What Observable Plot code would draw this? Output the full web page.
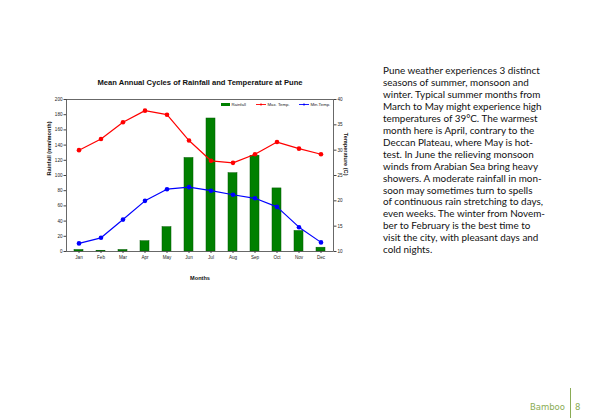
<!DOCTYPE html>
<html>
<head>
<meta charset="utf-8">
<script src="https://cdn.jsdelivr.net/npm/d3@7"></script>
<script src="https://cdn.jsdelivr.net/npm/@observablehq/plot@0.6"></script>
<style>
  html, body { margin: 0; padding: 0; background: #fff; }
  #wrap { position: relative; width: 600px; height: 420px; overflow: hidden; }
  #chart { position: absolute; left: 0; top: 0; }
  #para { position: absolute; left: 383px; top: 65px; font-family: Lato, "Open Sans", sans-serif; font-size: 9.9px; line-height: 11.95px; color: #111; white-space: nowrap; }
  #legend { position: absolute; top: 102px; left: 0; width: 600px; height: 8px; font-family: "Liberation Sans", Arial, sans-serif; font-size: 4.3px; color: #222; white-space: nowrap; }
  #legend .item { position: absolute; top: 0; display: flex; align-items: center; }
  #legend svg { margin-right: 1.5px; }
  #footer { position: absolute; left: 0; top: 388px; width: 600px; height: 30px; font-family: Verdana, "DejaVu Sans", sans-serif; color: #8aac55; font-size: 8.5px; }
</style>
</head>
<body>
<div id="wrap">
  <div id="chart"></div>
  <div id="legend"></div>
  <div id="para"></div>
  <div id="footer"></div>
</div>
<script>
// ---- Data ----
const months = ["Jan","Feb","Mar","Apr","May","Jun","Jul","Aug","Sep","Oct","Nov","Dec"];
const rainfall = [2, 1, 2, 13.5, 32, 123, 175, 103, 126, 83, 27, 5];
const maxTemp = [30.0, 32.2, 35.5, 37.8, 37.0, 31.9, 27.9, 27.5, 29.2, 31.6, 30.3, 29.2];
const minTemp = [11.6, 12.7, 16.3, 20.0, 22.3, 22.7, 22.0, 21.2, 20.5, 18.8, 14.8, 11.8];
const rainTicks = [0, 20, 40, 60, 80, 100, 120, 140, 160, 180, 200];
const tempTicks = [10, 15, 20, 25, 30, 35, 40];
const titleText = "Mean Annual Cycles of Rainfall and Temperature at Pune";
const yLabelLeft = "Rainfall (mm/month)";
const yLabelRight = "Temperature (C)";
const xLabel = "Months";
const legendLabels = ["Rainfall", "Max. Temp.", "Min.Temp."];
const legendKinds = ["bar", "line", "line"];
const legendColors = ["#008000", "#ff0000", "#0000ff"];
const paragraphLines = [
  "Pune weather experiences 3 distinct",
  "seasons of summer, monsoon and",
  "winter. Typical summer months from",
  "March to May might experience high",
  "temperatures of 39°C. The warmest",
  "month here is April, contrary to the",
  "Deccan Plateau, where May is hot-",
  "test. In June the relieving monsoon",
  "winds from Arabian Sea bring heavy",
  "showers. A moderate rainfall in mon-",
  "soon may sometimes turn to spells",
  "of continuous rain stretching to days,",
  "even weeks. The winter from Novem-",
  "ber to February is the best time to",
  "visit the city, with pleasant days and",
  "cold nights."
];
const footerName = "Bamboo";
const pageNumber = "8";

// temperature (10..40) mapped onto rainfall axis (0..200)
const tMin = 10, tMax = 40, rMax = 200;
const t2r = t => (t - tMin) * rMax / (tMax - tMin);
const r2t = r => tMin + r * (tMax - tMin) / rMax;

const rainData = months.map((m, i) => ({month: m, value: rainfall[i]}));
const maxData = months.map((m, i) => ({month: m, value: t2r(maxTemp[i])}));
const minData = months.map((m, i) => ({month: m, value: t2r(minTemp[i])}));

const plot = Plot.plot({
  width: 600,
  height: 420,
  marginLeft: 66,
  marginRight: 267,
  marginTop: 99,
  marginBottom: 169,
  style: {fontFamily: "'Liberation Sans', Arial, sans-serif", fontSize: "4.6px", color: "#222", background: "white"},
  x: {type: "band", domain: months, paddingInner: 0.57, paddingOuter: 0.285, label: null},
  y: {domain: [0, rMax], label: null},
  marks: [
    Plot.barY(rainData, {x: "month", y: "value", fill: "#008000", stroke: "#005a00", strokeWidth: 0.5}),
    Plot.line(maxData, {x: "month", y: "value", stroke: "#ff0000", strokeWidth: 1.2}),
    Plot.dot(maxData, {x: "month", y: "value", fill: "#ff0000", r: 2.3}),
    Plot.line(minData, {x: "month", y: "value", stroke: "#0000ff", strokeWidth: 1.2}),
    Plot.dot(minData, {x: "month", y: "value", fill: "#0000ff", r: 2.3}),
    Plot.frame({stroke: "#444", strokeWidth: 0.8}),
    Plot.axisY({anchor: "left", ticks: rainTicks, tickSize: 2.5, tickPadding: 1.5, label: null, stroke: "#444"}),
    Plot.axisY({anchor: "right", ticks: tempTicks.map(t2r), tickFormat: r => String(Math.round(r2t(r))), tickSize: 2.5, tickPadding: 1.5, label: null, stroke: "#444"}),
    Plot.axisX({anchor: "bottom", tickSize: 2, tickPadding: 2.5, label: null, stroke: "#444"}),
    Plot.text([titleText], {frameAnchor: "top", dy: -20, text: d => d, fontSize: 7.6, fontWeight: "bold", fill: "#111"}),
    Plot.text([yLabelLeft], {frameAnchor: "left", dx: -17, rotate: -90, text: d => d, fontSize: 5.6, fontWeight: "bold", fill: "#111"}),
    Plot.text([yLabelRight], {frameAnchor: "right", dx: 12, rotate: 90, text: d => d, fontSize: 5.6, fontWeight: "bold", fill: "#111"}),
    Plot.text([xLabel], {frameAnchor: "bottom", dy: 28, text: d => d, fontSize: 5.6, fontWeight: "bold", fill: "#111"})
  ]
});
document.getElementById("chart").appendChild(plot);

// legend (positioned in page pixels like the reference)
const legend = document.getElementById("legend");
const legendLeft = [221, 256, 299];
legendLabels.forEach((label, i) => {
  const div = document.createElement("div");
  div.className = "item";
  div.style.left = legendLeft[i] + "px";
  const c = legendColors[i];
  const sw = legendKinds[i] === "bar"
    ? `<svg width="9" height="5"><rect x="0" y="1" width="9" height="3" fill="${c}"/></svg>`
    : `<svg width="10" height="5"><line x1="0" y1="2.5" x2="10" y2="2.5" stroke="${c}" stroke-width="0.9"/><circle cx="5" cy="2.5" r="1.1" fill="${c}"/></svg>`;
  div.innerHTML = sw + `<span>${label}</span>`;
  legend.appendChild(div);
});

// paragraph
document.getElementById("para").innerHTML = paragraphLines.join("<br>");

// footer
document.getElementById("footer").innerHTML =
  `<div style="position:absolute; right:35px; top:14px; text-align:right;">${footerName}</div>` +
  `<div style="position:absolute; left:570px; top:0; width:1px; height:30px; background:#8aac55;"></div>` +
  `<div style="position:absolute; left:575px; top:14px;">${pageNumber}</div>`;
</script>
</body>
</html>
